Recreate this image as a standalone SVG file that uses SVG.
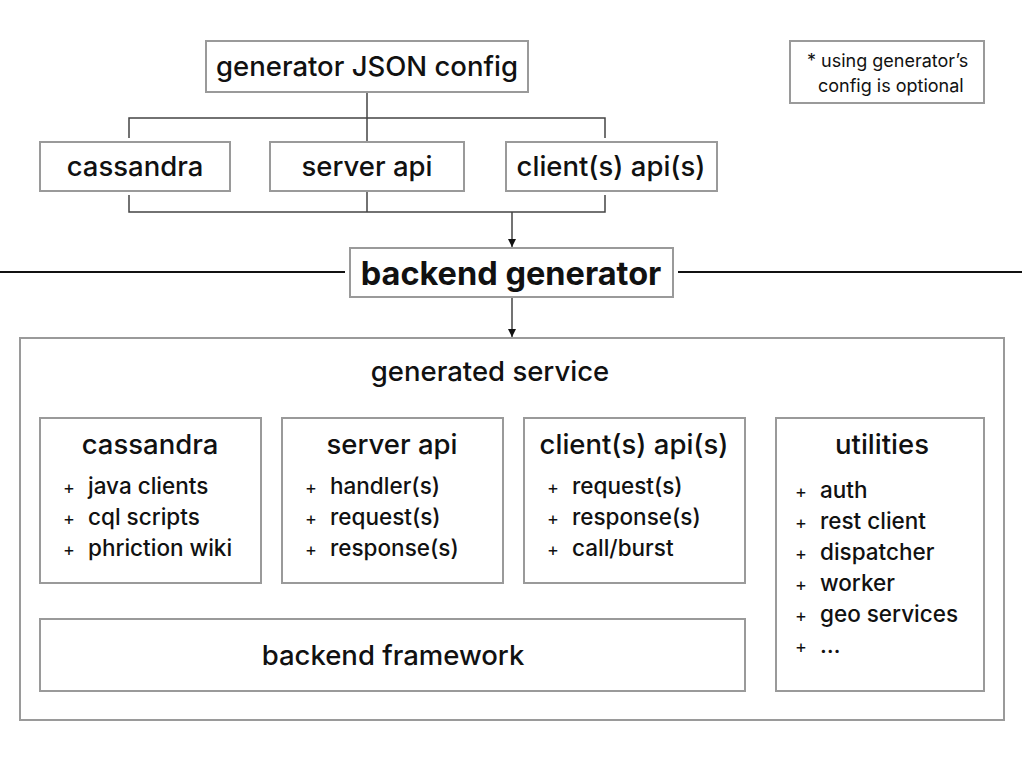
<svg xmlns="http://www.w3.org/2000/svg" width="1024" height="768" viewBox="0 0 1024 768">
<defs>
<style>
.box{fill:#fff;stroke:#9a9a9a;stroke-width:2}
.t{font-family:Inter,"Noto Sans","Liberation Sans",sans-serif;fill:#111;text-anchor:middle;font-weight:500}
.big{font-size:27.5px}
.bold{font-size:32.5px;font-weight:700}
.it{font-family:Inter,"Noto Sans","Liberation Sans",sans-serif;fill:#111;font-size:22.5px;font-weight:500}
.p{font-family:Inter,"Noto Sans","Liberation Sans",sans-serif;fill:#111;font-size:18px}
.pl{font-family:Inter,"Noto Sans","Liberation Sans",sans-serif;fill:#111;font-size:18px}
.c{stroke:#444;stroke-width:1.5;fill:none}
.h{stroke:#111;stroke-width:2;fill:none}
</style>
<marker id="ar" viewBox="0 0 10 10" refX="10" refY="5" markerWidth="8" markerHeight="8" markerUnits="userSpaceOnUse" orient="auto">
<path d="M0,0 L10,5 L0,10 z" fill="#111"/>
</marker>
</defs>
<g id="connectors">
<path class="c" d="M367,92 V142 M129,138 V118 H605 V138"/>
<path class="c" d="M129,195 V212 H605 V195 M367,191 V212"/>
<path class="c" d="M512,212 V247" marker-end="url(#ar)"/>
<path class="c" d="M512,297 V337" marker-end="url(#ar)"/>
<path class="h" d="M0,272 H345 M678,272 H1022"/>
<path class="c" d="M151,583 V619 M392,583 V619 M634,583 V619 M745,655 H776"/>
</g>
<g id="config">
<rect class="box" x="206" y="41" width="322" height="51"/>
<text class="t big" x="367" y="76">generator JSON config</text>
</g>
<g id="note">
<rect class="box" x="790" y="41" width="194" height="62"/>
<text class="pl" x="807" y="67">* using generator’s</text>
<text class="pl" x="818" y="92">config is optional</text>
</g>
<g id="cfg-cassandra">
<rect class="box" x="40" y="142" width="190" height="49"/>
<text class="t big" x="135" y="176">cassandra</text>
</g>
<g id="cfg-server">
<rect class="box" x="270" y="142" width="194" height="49"/>
<text class="t big" x="367" y="176">server api</text>
</g>
<g id="cfg-client">
<rect class="box" x="506" y="142" width="211" height="49"/>
<text class="t big" x="611" y="176">client(s) api(s)</text>
</g>
<g id="backend-generator">
<rect class="box" x="350" y="248" width="323" height="49"/>
<text class="t bold" x="511" y="285">backend generator</text>
</g>
<g id="generated-service">
<rect class="box" x="20" y="338" width="984" height="382"/>
<text class="t big" x="490" y="381">generated service</text>
</g>
<g id="svc-cassandra">
<rect class="box" x="40" y="418" width="221" height="165"/>
<text class="t big" x="150" y="454">cassandra</text>
<text class="p" x="63" y="494">+</text><text class="it" x="88" y="494">java clients</text>
<text class="p" x="63" y="525">+</text><text class="it" x="88" y="525">cql scripts</text>
<text class="p" x="63" y="556">+</text><text class="it" x="88" y="556">phriction wiki</text>
</g>
<g id="svc-server">
<rect class="box" x="282" y="418" width="221" height="165"/>
<text class="t big" x="392" y="454">server api</text>
<text class="p" x="305" y="494">+</text><text class="it" x="330" y="494">handler(s)</text>
<text class="p" x="305" y="525">+</text><text class="it" x="330" y="525">request(s)</text>
<text class="p" x="305" y="556">+</text><text class="it" x="330" y="556">response(s)</text>
</g>
<g id="svc-client">
<rect class="box" x="524" y="418" width="221" height="165"/>
<text class="t big" x="634" y="454">client(s) api(s)</text>
<text class="p" x="547" y="494">+</text><text class="it" x="572" y="494">request(s)</text>
<text class="p" x="547" y="525">+</text><text class="it" x="572" y="525">response(s)</text>
<text class="p" x="547" y="556">+</text><text class="it" x="572" y="556">call/burst</text>
</g>
<g id="utilities">
<rect class="box" x="776" y="418" width="208" height="273"/>
<text class="t big" x="882" y="454">utilities</text>
<text class="p" x="795" y="498">+</text><text class="it" x="820" y="498">auth</text>
<text class="p" x="795" y="529">+</text><text class="it" x="820" y="529">rest client</text>
<text class="p" x="795" y="560">+</text><text class="it" x="820" y="560">dispatcher</text>
<text class="p" x="795" y="591">+</text><text class="it" x="820" y="591">worker</text>
<text class="p" x="795" y="622">+</text><text class="it" x="820" y="622">geo services</text>
<text class="p" x="795" y="653">+</text><text class="it" x="820" y="653">…</text>
</g>
<g id="backend-framework">
<rect class="box" x="40" y="619" width="705" height="72"/>
<text class="t big" x="393" y="665">backend framework</text>
</g>
</svg>
